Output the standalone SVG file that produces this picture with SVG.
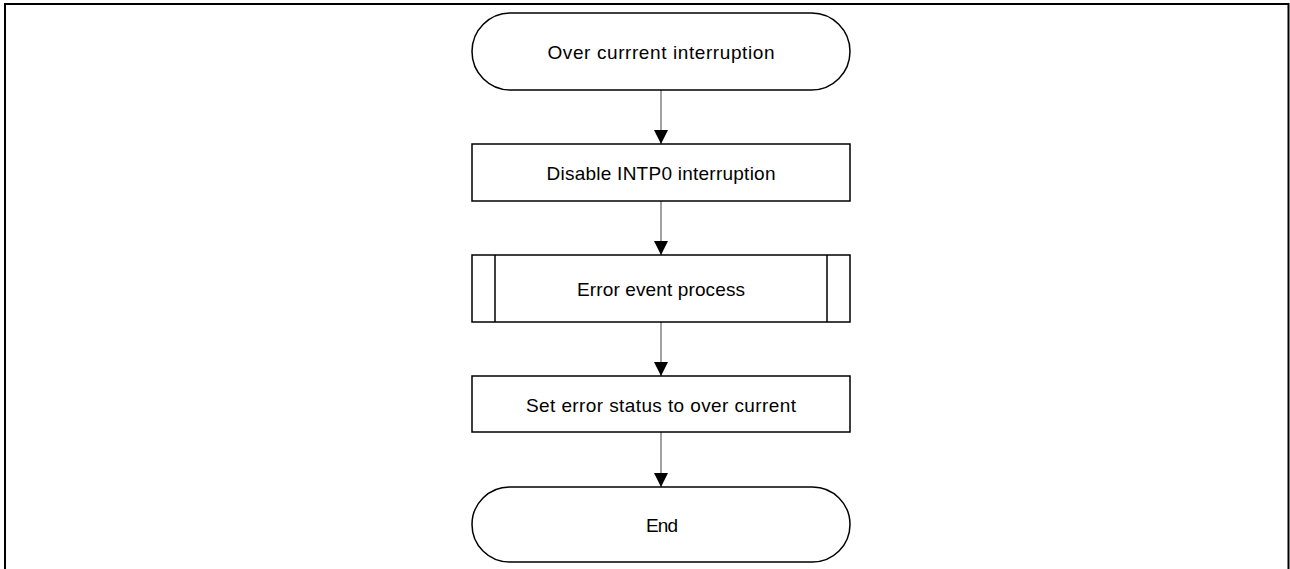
<svg xmlns="http://www.w3.org/2000/svg" width="1290" height="569" viewBox="0 0 1290 569">
<style>
.shape{fill:#fff;stroke:#000;stroke-width:1.5}
.lbl{font-family:"Liberation Sans",Arial,sans-serif;font-size:19px;fill:#000;text-anchor:middle}
.conn{stroke:#6e6e6e;stroke-width:1.3;fill:none}
.frame{stroke:#000;stroke-width:2;fill:none}
</style>
<defs>
<marker id="ah" markerWidth="14" markerHeight="14" refX="14" refY="7" orient="auto" markerUnits="userSpaceOnUse">
<path d="M0,0 L14,7 L0,14 Z" fill="#000"/>
</marker>
</defs>
<rect width="1290" height="569" fill="#fff"/>
<path class="frame" d="M5,569 V4 H1288.5 V569"/>
<g id="connectors">
<line class="conn" x1="661" y1="90" x2="661" y2="144" marker-end="url(#ah)"/>
<line class="conn" x1="661" y1="201" x2="661" y2="255" marker-end="url(#ah)"/>
<line class="conn" x1="661" y1="322" x2="661" y2="376" marker-end="url(#ah)"/>
<line class="conn" x1="661" y1="432" x2="661" y2="487" marker-end="url(#ah)"/>
</g>
<g id="start">
<rect class="shape" x="472" y="13" width="378" height="77" rx="38.5" ry="38.5"/>
<text class="lbl" x="661" y="58.5" textLength="227" lengthAdjust="spacing">Over currrent interruption</text>
</g>
<g id="disable">
<rect class="shape" x="472" y="144" width="378" height="57"/>
<text class="lbl" x="661" y="179.5" textLength="229" lengthAdjust="spacing">Disable INTP0 interruption</text>
</g>
<g id="error">
<rect class="shape" x="472" y="255" width="378" height="67"/>
<line class="shape" x1="495" y1="255" x2="495" y2="322"/>
<line class="shape" x1="827" y1="255" x2="827" y2="322"/>
<text class="lbl" x="661" y="295.5" textLength="168" lengthAdjust="spacing">Error event process</text>
</g>
<g id="setstatus">
<rect class="shape" x="472" y="376" width="378" height="56"/>
<text class="lbl" x="661" y="411.5" textLength="270" lengthAdjust="spacing">Set error status to over current</text>
</g>
<g id="end">
<rect class="shape" x="472" y="487" width="378" height="75" rx="37.5" ry="37.5"/>
<text class="lbl" x="662" y="531.5" textLength="32" lengthAdjust="spacing">End</text>
</g>
</svg>
